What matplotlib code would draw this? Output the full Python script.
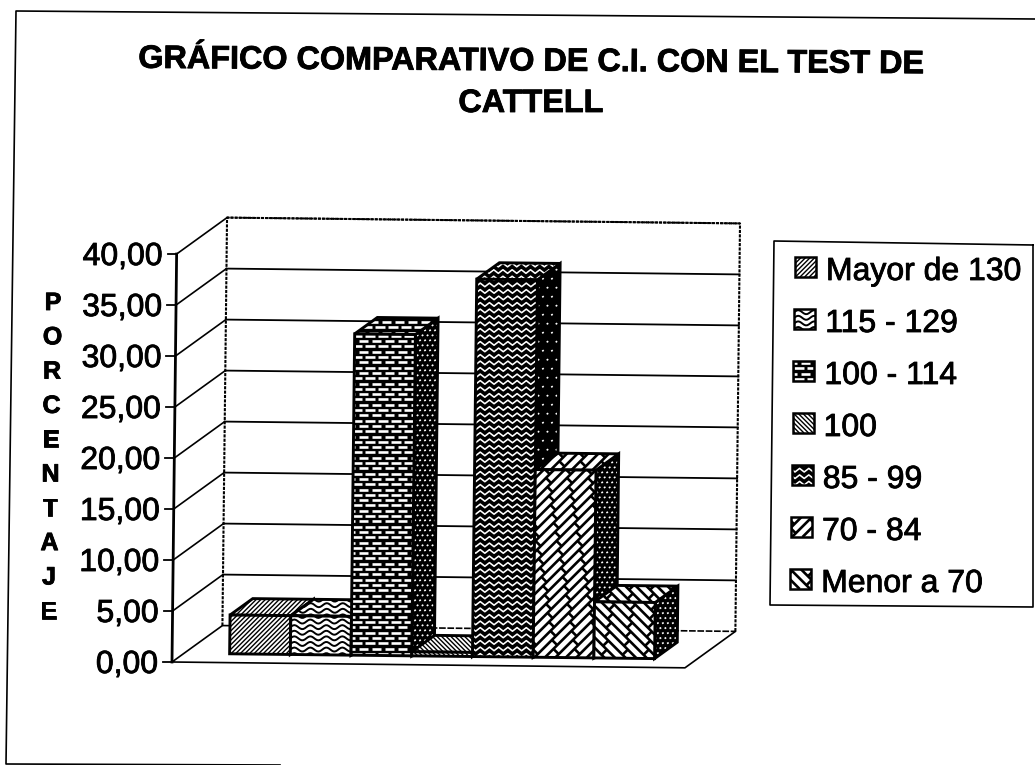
import numpy as np
import matplotlib
matplotlib.use("Agg")
import matplotlib.pyplot as plt
import matplotlib.patheffects as pe
from matplotlib.collections import LineCollection
from matplotlib.patches import Polygon
from matplotlib.transforms import Affine2D, IdentityTransform

plt.rcParams["font.family"] = ["Liberation Sans", "DejaVu Sans"]

## Chart data.
title_line1 = "GRÁFICO COMPARATIVO DE C.I. CON EL TEST DE"
title_line2 = "CATTELL"
y_title = "PORCENTAJE"
categories = ["Mayor de 130", "115 - 129", "100 - 114", "100", "85 - 99", "70 - 84", "Menor a 70"]
values = [3.8, 3.8, 31.5, 0.4, 37.0, 18.4, 5.5]
y_ticks = [0, 5, 10, 15, 20, 25, 30, 35, 40]
y_tick_labels = ["0,00", "5,00", "10,00", "15,00", "20,00", "25,00", "30,00", "35,00", "40,00"]

## Fill pattern of each series: front/top and then the darker side face.
front_patterns = ["diag", "wave", "brick", "back", "herring", "slant", "slant2"]
side_patterns = ["dots", "dots", "dots", "dots", "sparse", "dots", "dots"]

W, H = 1035, 765
TILT = -0.65  # the page was scanned a little crooked
HEAVY = [pe.withStroke(linewidth=0.6, foreground="black")]
next_z = [3]


def pattern(kind, x0, y0, x1, y1):
    """Line segments in pixels that cover the box, plus colours for face, lines and the line width."""
    segs = []
    if kind in ("diag", "back"):
        step = 4.6
        size = (x1 - x0) + (y1 - y0)
        for c in np.arange(-size, size, step):
            if kind == "diag":
                segs.append([(x0 + c, y0), (x0 + c + size, y0 + size)])
            else:
                segs.append([(x1 - c, y0), (x1 - c - size, y0 + size)])
        return segs, "white", "black", 1.0
    if kind == "wave":
        for y in np.arange(y0, y1 + 6, 5.6):
            xs = np.arange(x0 - 2, x1 + 2, 1.5)
            ys = y + 2.0 * np.sin((xs - x0) * 2 * np.pi / 16)
            segs.append(list(zip(xs, ys)))
        return segs, "white", "black", 1.4
    if kind == "brick":
        ## white dashes on black
        for row, y in enumerate(np.arange(y0 + 2, y1 + 5, 5.3)):
            for x in np.arange(x0 + 1 - 13 + 6.5 * (row % 2), x1 + 13, 13):
                segs.append([(x, y), (x + 9.5, y)])
        return segs, "black", "white", 1.9
    if kind == "herring":
        for y in np.arange(y0, y1 + 7, 6.5):
            pts = []
            for i, x in enumerate(np.arange(x0 - 6, x1 + 6, 4.6)):
                pts.append((x, y + 3.6 * (i % 2)))
            segs.append(pts)
        return segs, "black", "white", 1.15
    if kind in ("slant", "slant2"):
        step = 10.5
        size = (x1 - x0) + (y1 - y0)
        sign = 1 if kind == "slant" else -1
        for n, c in enumerate(np.arange(-size, size, step)):
            if sign > 0:
                a = (x0 + c, y0)
            else:
                a = (x1 - c, y0)
            segs.append([a, (a[0] + sign * size, a[1] + size)])
            ## short cross strokes between two long ones, staggered
            for t in np.arange(0, size, 18):
                sx = a[0] + sign * (t + 9 * (n % 2))
                sy = a[1] + t + 9 * (n % 2)
                segs.append([(sx, sy), (sx + sign * step / 2, sy - step / 2)])
        return segs, "white", "black", 1.9
    if kind in ("dots", "sparse"):
        step = 5 if kind == "dots" else 9
        for row, y in enumerate(np.arange(y0, y1 + step, step)):
            for x in np.arange(x0 + (row % 2) * step / 2, x1 + step, step):
                segs.append([(x, y), (x + 1.6, y + 1.0)])
        return segs, "black", "white", 1.2
    return segs, "white", "black", 1.0


def face(ax, verts, tr, kind, lw=2.1):
    """Draw one polygon with its pattern clipped inside it."""
    px = tr.transform(verts)
    x0, y0 = px.min(axis=0)
    x1, y1 = px.max(axis=0)
    segs, fc, lc, plw = pattern(kind, x0, y0, x1, y1)
    z = next_z[0]
    next_z[0] += 3
    bg = Polygon(verts, closed=True, facecolor=fc, edgecolor="none", transform=tr, clip_on=False, zorder=z)
    ax.add_patch(bg)
    col = LineCollection(segs, colors=lc, linewidths=plw, transform=IdentityTransform(), zorder=z + 1)
    ax.add_collection(col, autolim=False)
    col.set_clip_path(bg)
    ax.add_patch(Polygon(verts, closed=True, facecolor="none", edgecolor="black", linewidth=lw,
                         joinstyle="miter", transform=tr, clip_on=False, zorder=z + 2))


fig = plt.figure(figsize=(W / 100, H / 100), dpi=100, facecolor="white")

## Page coordinates in pixels for the frame and the legend.
page = fig.add_axes([0, 0, 1, 1])
page.set_xlim(0, W)
page.set_ylim(H, 0)
page.axis("off")

## Front plane of the 3D box: 0 to 40 in height.
ax = fig.add_axes([172 / W, (H - 662) / H, 513 / W, 408 / H])
ax.set_xlim(-0.75, 7.70)
ax.set_ylim(0, 40)
ax.axis("off")
tr = ax.transData + Affine2D().rotate_deg_around(172, H - 662, TILT)

## Size of the depth direction, in data units.
DX = 50 / (513 / 8.45)
DY = 37 / (408 / 40)


def at(x, y, d):
    return (x + d * DX, y + d * DY)


xa, xb = ax.get_xlim()

## Back wall and floor.
ax.plot(*zip(at(xa, 0, 1), at(xa, 40, 1), at(xb, 40, 1), at(xb, 0, 1)), color="black", lw=1.5,
        ls=(0, (1.5, 0.6)), transform=tr, clip_on=False, zorder=1)
ax.plot(*zip(at(xa, 0, 1), at(xa, 0, 0), at(xb, 0, 0), at(xb, 0, 1)), color="black", lw=1.2,
        transform=tr, clip_on=False, zorder=1)
ax.plot(*zip(at(xa, 0, 1), at(xb, 0, 1)), color="black", lw=1.2, ls=(0, (4, 1)), transform=tr, clip_on=False,
        zorder=1)

## Grid lines run back along the side wall and then across the back wall.
for t in y_ticks[1:]:
    style = "-" if t < 40 else (0, (1.5, 0.6))
    ax.plot(*zip(at(xa, t, 0), at(xa, t, 1)), color="black", lw=1.2, transform=tr, clip_on=False, zorder=1)
    ax.plot(*zip(at(xa, t, 1), at(xb, t, 1)), color="black", lw=1.3, ls=style, transform=tr, clip_on=False,
            zorder=1)

## Value axis with its ticks and labels.
ax.plot(*zip(at(xa, 0, 0), at(xa, 40, 0)), color="black", lw=2.0, transform=tr, clip_on=False, zorder=2)
for t, lab in zip(y_ticks, y_tick_labels):
    x_px, y_px = tr.transform((xa, t))
    page.plot([x_px - 9, x_px], [H - y_px, H - y_px], color="black", lw=1.3, clip_on=False)
    page.text(x_px - 14, H - y_px + 11, lab, ha="right", va="baseline", fontsize=23, color="black",
              path_effects=HEAVY)

## The bars, left to right, so that each one hides the side of the one before.
D0, D1 = 0.24, 0.69
for i, v in enumerate(values):
    l, r = float(i), float(i + 1)
    front = [at(l, 0, D0), at(r, 0, D0), at(r, v, D0), at(l, v, D0)]
    top = [at(l, v, D0), at(r, v, D0), at(r, v, D1), at(l, v, D1)]
    side = [at(r, 0, D0), at(r, 0, D1), at(r, v, D1), at(r, v, D0)]
    face(ax, side, tr, side_patterns[i])
    face(ax, top, tr, front_patterns[i])
    face(ax, front, tr, front_patterns[i])

## Outer frame of the chart.
page.plot([1035, 16, 6, 280], [19, 11, 764, 765], color="black", lw=1.2, clip_on=False)

## Titles.
page.text(531.5, 70.5, title_line1, ha="center", va="baseline", fontsize=23.3, fontweight="bold",
          rotation=-0.4, rotation_mode="anchor", path_effects=HEAVY)
page.text(531, 112, title_line2, ha="center", va="baseline", fontsize=23.3, fontweight="bold",
          path_effects=HEAVY)
for i, letter in enumerate(y_title):
    page.text(53 - i * 0.5, 303 + i * 34.3, letter, ha="center", va="center", fontsize=18,
              fontweight="bold", path_effects=HEAVY)

## Legend.
page.plot([1033, 774, 770, 1033, 1033], [245, 241, 605, 607, 245], color="black", lw=1.2, clip_on=False)
for i, name in enumerate(categories):
    yc = 267 + i * 52.0
    xc = 795 - i * 0.8
    box = [(xc, yc - 10), (xc + 21, yc - 10), (xc + 21, yc + 10), (xc, yc + 10)]
    face(page, box, page.transData, front_patterns[i], lw=1.8)
    page.text(xc + 31, yc + 13, name, ha="left", va="baseline", fontsize=23, path_effects=HEAVY)

fig.savefig("out.png", dpi=100, facecolor="white")
